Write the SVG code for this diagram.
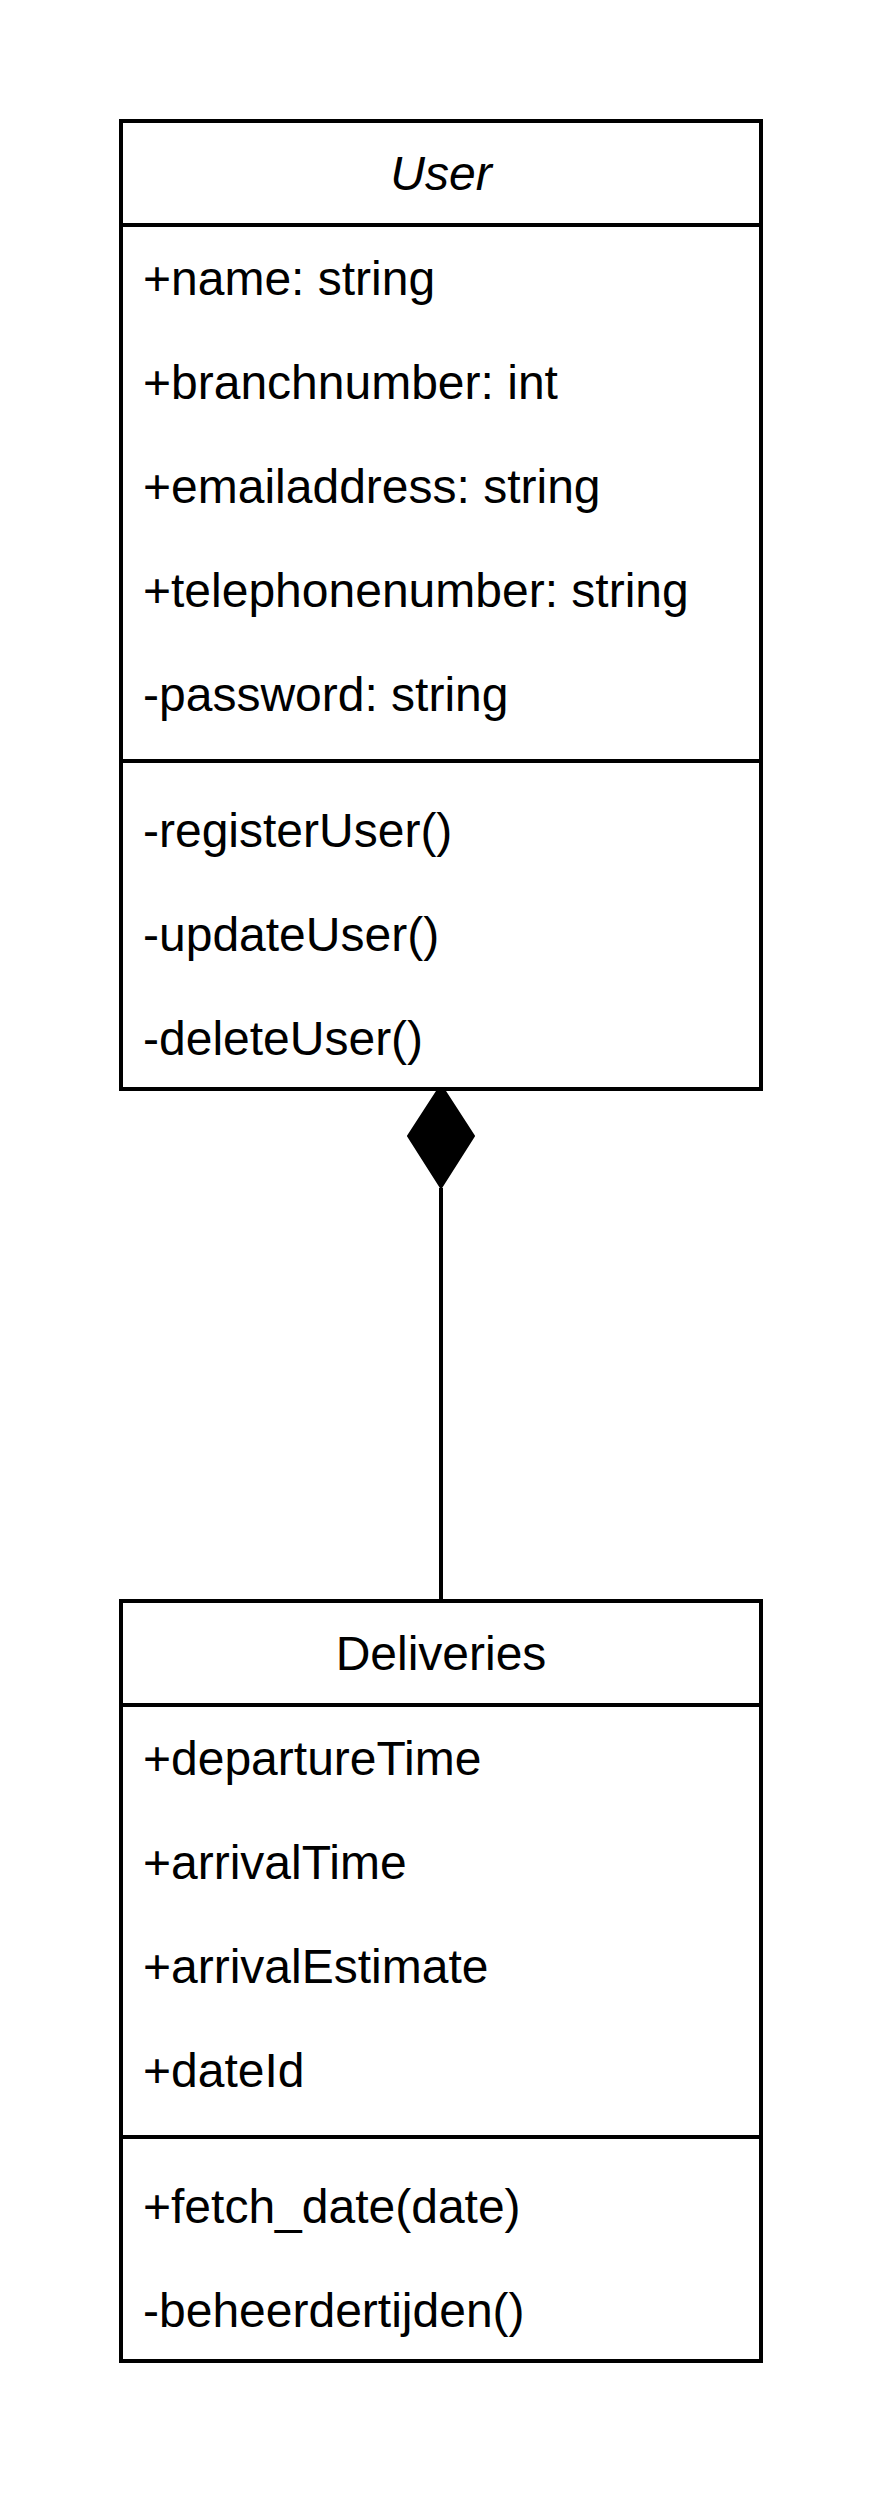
<svg xmlns="http://www.w3.org/2000/svg" width="884" height="2496" viewBox="0 0 884 2496">
<style>
.box{fill:#fff;stroke:#000;stroke-width:4}
.sep{stroke:#000;stroke-width:4;fill:none}
.t{font-family:"Liberation Sans",Arial,sans-serif;font-size:48px;fill:#000}
.c{text-anchor:middle}
</style>
<rect width="884" height="2496" fill="#fff"/>
<g id="connectors">
<line x1="441" y1="1188" x2="441" y2="1601" class="sep"/>
<polygon points="441,1085 474,1136 441,1188 408,1136" fill="#000" stroke="#000" stroke-width="2"/>
</g>
<g id="user">
<rect class="box" x="121" y="121" width="640" height="968"/>
<line class="sep" x1="121" y1="225" x2="761" y2="225"/>
<line class="sep" x1="121" y1="761" x2="761" y2="761"/>
<text class="t c" x="441" y="190" font-style="italic">User</text>
<text class="t" x="143" y="295">+name: string</text>
<text class="t" x="143" y="399">+branchnumber: int</text>
<text class="t" x="143" y="503">+emailaddress: string</text>
<text class="t" x="143" y="607">+telephonenumber: string</text>
<text class="t" x="143" y="711">-password: string</text>
<text class="t" x="143" y="847">-registerUser()</text>
<text class="t" x="143" y="951">-updateUser()</text>
<text class="t" x="143" y="1055">-deleteUser()</text>
</g>
<g id="deliveries">
<rect class="box" x="121" y="1601" width="640" height="760"/>
<line class="sep" x1="121" y1="1705" x2="761" y2="1705"/>
<line class="sep" x1="121" y1="2137" x2="761" y2="2137"/>
<text class="t c" x="441" y="1670">Deliveries</text>
<text class="t" x="143" y="1775">+departureTime</text>
<text class="t" x="143" y="1879">+arrivalTime</text>
<text class="t" x="143" y="1983">+arrivalEstimate</text>
<text class="t" x="143" y="2087">+dateId</text>
<text class="t" x="143" y="2223">+fetch_date(date)</text>
<text class="t" x="143" y="2327">-beheerdertijden()</text>
</g>
</svg>
